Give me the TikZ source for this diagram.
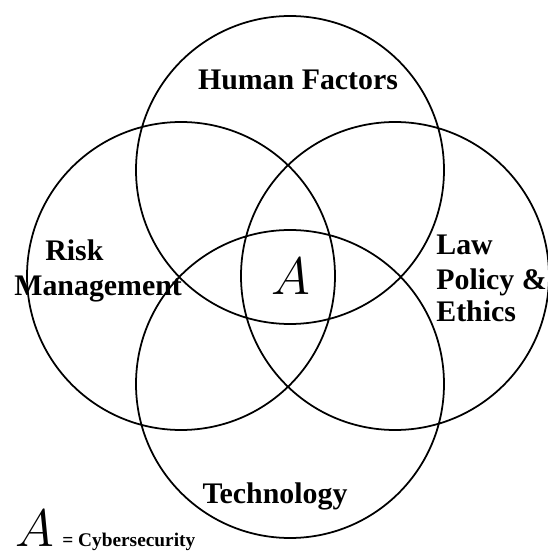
\RequirePackage{fix-cm}
\documentclass[tikz,border=0pt]{standalone}
\usepackage[no-math]{fontspec}
\setmainfont{Liberation Serif}
\definecolor{vennink}{HTML}{000000}

\begin{document}
\begin{tikzpicture}[
  x=0.2mm,
  y=0.2mm,
  every node/.style={font=\fontsize{17}{19}\selectfont\bfseries, inner sep=0pt, text=vennink},
  area/.style={anchor=base west},
  symbolA/.style={font=\fontsize{30}{30}\selectfont, inner sep=0pt}
]
  \useasboundingbox (0,0) rectangle (548,553);

  \def\circTop{(290,383) circle (154)}
  \def\circLeft{(181,277) circle (154)}
  \def\circRight{(395,277) circle (154)}
  \def\circBottom{(290,169) circle (154)}

  \draw[vennink, line width=1pt] \circTop \circLeft \circRight \circBottom;

  % labels of the four areas
  \node[anchor=base] (human) at (298,463) {Human Factors};
  \node[area] (risk) at (45,292) {Risk};
  \node[area] (mgmt) at (14,257) {Management};
  \node[area] (law) at (436,298) {Law};
  \node[area] (policy) at (436,263) {Policy \&};
  \node[area] (ethics) at (436,231) {Ethics};
  \node[anchor=base] (tech) at (275,50) {Technology};

  % overlap of all four
  \node[symbolA, anchor=base] (core) at (291,258) {$A$};

  % key
  \node[symbolA, anchor=base west] (keyA) at (15,6) {$A$};
  \node[anchor=base west, font=\fontsize{11}{13}\selectfont\bfseries] (keytext) at (62,6) {= Cybersecurity};
\end{tikzpicture}
\end{document}
